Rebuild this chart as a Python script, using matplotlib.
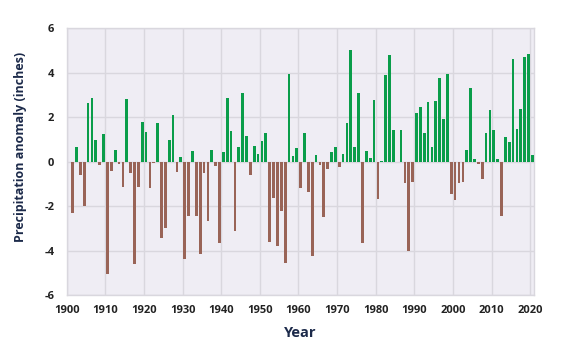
import matplotlib

matplotlib.use("Agg")
import matplotlib.pyplot as plt
import numpy as np

plt.rcParams["font.family"] = ["Open Sans", "DejaVu Sans"]
plt.rcParams["axes.unicode_minus"] = False

years = np.arange(1901, 2021)

anomaly = [
    # 1901-1910
    -2.29, 0.67, -0.57, -2.00, 2.65, 2.89, 1.00, -0.12, 1.24, -5.05,
    # 1911-1920
    -0.40, 0.52, -0.10, -1.12, 2.83, -0.52, -4.60, -1.15, 1.81, 1.36,
    # 1921-1930
    -1.17, -0.05, 1.74, -3.43, -2.98, 1.00, 2.11, -0.45, 0.21, -4.36,
    # 1931-1940
    -2.43, 0.49, -2.44, -4.16, -0.48, -2.67, 0.55, -0.19, -3.63, 0.45,
    # 1941-1950
    2.86, 1.39, -3.13, 0.67, 3.09, 1.15, -0.60, 0.73, 0.36, 0.93,
    # 1951-1960
    1.30, -3.61, -1.63, -3.79, -2.19, -4.55, 3.94, 0.28, 0.64, -1.18,
    # 1961-1970
    1.30, -1.34, -4.24, 0.31, -0.12, -2.49, -0.33, 0.43, 0.67, -0.24,
    # 1971-1980
    0.37, 1.75, 5.02, 0.66, 3.09, -3.63, 0.48, 0.19, 2.80, -1.68,
    # 1981-1990
    0.03, 3.91, 4.82, 1.45, -0.02, 1.42, -0.94, -4.03, -0.90, 2.22,
    # 1991-2000
    2.49, 1.30, 2.68, 0.67, 2.76, 3.75, 1.92, 3.96, -1.45, -1.72,
    # 2001-2010
    -0.93, -0.90, 0.55, 3.31, 0.13, -0.10, -0.75, 1.30, 2.35, 1.44,
    # 2011-2020
    0.15, -2.43, 1.12, 0.91, 4.63, 1.48, 2.37, 4.72, 4.87, 0.33,
]

x_ticks = list(range(1900, 2021, 10))
y_ticks = [-6, -4, -2, 0, 2, 4, 6]

WET = "#0a9d4a"
DRY = "#996457"
TEXT = "#1c2a4a"

values = np.array(anomaly)
colors = [WET if v >= 0 else DRY for v in values]

fig = plt.figure(figsize=(5.68, 3.47), dpi=100)
ax = fig.add_axes([0.1174, 0.149, 0.823, 0.769])
ax.set_facecolor("#efedf4")

ax.bar(years + 0.55, values, width=0.7, color=colors, zorder=3)

ax.set_xlim(1900, 2021)
ax.set_ylim(-6, 6)
ax.set_xticks(x_ticks)
ax.set_yticks(y_ticks)
ax.grid(True, color="#d9d7de", linewidth=1.0, zorder=0)
ax.tick_params(length=0, labelsize=8, labelcolor="#222222")
ax.tick_params(axis="x", pad=7)
ax.tick_params(axis="y", pad=9)
for lab in ax.get_xticklabels() + ax.get_yticklabels():
    lab.set_fontweight("bold")

for side in ax.spines.values():
    side.set_color("#d9d7de")
    side.set_linewidth(1.0)

ax.set_xlabel("Year", fontsize=10.5, fontweight="bold", color=TEXT, labelpad=7)
ax.set_ylabel("Precipitation anomaly (inches)", fontsize=9, fontweight="bold",
              color=TEXT)
ax.yaxis.set_label_coords(-0.085, 0.555)

fig.savefig("out.png", dpi=100)
